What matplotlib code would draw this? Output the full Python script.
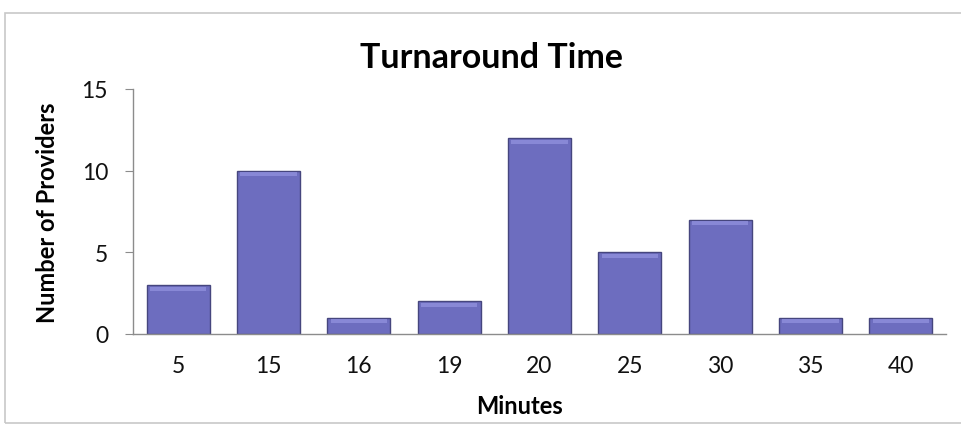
import matplotlib
matplotlib.use("Agg")
import matplotlib.pyplot as plt
from matplotlib.patches import Rectangle

categories = ["5", "15", "16", "19", "20", "25", "30", "35", "40"]
values = [3, 10, 1, 2, 12, 5, 7, 1, 1]
yticks = [0, 5, 10, 15]

plt.rcParams['font.family'] = ['Lato', 'DejaVu Sans']

fig = plt.figure(figsize=(9.62, 4.27), dpi=100)
fig.patch.set_facecolor('white')
# outer chart frame
fig.patches.append(Rectangle((5/962, 3/427), 1.2, 410/427, transform=fig.transFigure,
                             fill=False, edgecolor='#c8c8c8', linewidth=1.2))

ax = fig.add_axes([133/962, 1-335/427, (946-133)/962, (335-90)/427])
x = range(len(categories))
ax.bar(x, values, width=0.7, color='#6d6dbf', edgecolor='#46467e', linewidth=1.0, zorder=2)
# subtle top highlight
ax.bar(x, [0.25]*len(values), bottom=[v-0.35 for v in values], width=0.62,
       color='#8f8fdc', linewidth=0, zorder=3, alpha=0.8)

ax.set_xlim(-0.5, len(categories)-0.5)
ax.set_ylim(0, 15)
ax.set_yticks(yticks)
ax.set_xticks(list(x))
ax.set_xticklabels(categories)
for s in ['top', 'right']:
    ax.spines[s].set_visible(False)
for s in ['left', 'bottom']:
    ax.spines[s].set_color('#8c8c8c')
    ax.spines[s].set_linewidth(1.0)
ax.tick_params(axis='y', colors='#8c8c8c', labelcolor='#111111', labelsize=16.5, length=6, pad=12)
ax.tick_params(axis='x', length=0, labelsize=16.5, pad=15, labelcolor='#111111')

fig.text(492/962, 1-58/427, "Turnaround Time", fontsize=24.5, fontweight='bold',
         ha='center', va='center')
fig.text(520/962, 1-407/427, "Minutes", fontsize=17, fontweight='bold',
         ha='center', va='center')
ax.set_ylabel("Number of Providers", fontsize=17, fontweight='bold', labelpad=16)

fig.savefig("out.png", dpi=100)
